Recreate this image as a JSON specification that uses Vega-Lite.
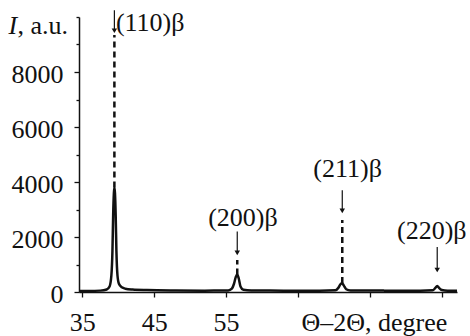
{
  "$schema": "https://vega.github.io/schema/vega-lite/v6.json",
  "width": 378,
  "height": 275,
  "autosize": "none",
  "padding": {"left": 79, "top": 17, "right": 13, "bottom": 44},
  "background": "white",
  "config": {
    "view": {"stroke": null},
    "axis": {
      "labelFont": "Liberation Serif",
      "labelFontSize": 26,
      "labelColor": "#111",
      "titleFont": "Liberation Serif",
      "titleFontSize": 26,
      "titleFontWeight": "normal",
      "titleColor": "#111",
      "domainColor": "#111",
      "domainWidth": 1.5,
      "tickColor": "#111",
      "tickWidth": 1.3,
      "grid": false
    }
  },
  "resolve": {"axis": {"y": "independent"}},
  "layer": [
    {
      "data": {"values": [
        {"t": 34.55, "I": 40}, {"t": 36, "I": 40}, {"t": 37.5, "I": 50}, {"t": 38.4, "I": 90},
        {"t": 38.8, "I": 200}, {"t": 39.05, "I": 600}, {"t": 39.2, "I": 1500}, {"t": 39.3, "I": 2800},
        {"t": 39.4, "I": 3600}, {"t": 39.47, "I": 3800}, {"t": 39.55, "I": 3600}, {"t": 39.65, "I": 2800},
        {"t": 39.75, "I": 1500}, {"t": 39.9, "I": 600}, {"t": 40.1, "I": 300}, {"t": 40.5, "I": 170},
        {"t": 41, "I": 120}, {"t": 42, "I": 90}, {"t": 44, "I": 70}, {"t": 48, "I": 55},
        {"t": 52, "I": 50}, {"t": 55.3, "I": 55}, {"t": 55.8, "I": 120}, {"t": 56.1, "I": 300},
        {"t": 56.35, "I": 550}, {"t": 56.55, "I": 640}, {"t": 56.75, "I": 500}, {"t": 57.0, "I": 200},
        {"t": 57.4, "I": 80}, {"t": 58.5, "I": 55}, {"t": 63, "I": 50}, {"t": 68, "I": 50},
        {"t": 70.2, "I": 60}, {"t": 70.6, "I": 150}, {"t": 70.9, "I": 280}, {"t": 71.1, "I": 330},
        {"t": 71.35, "I": 240}, {"t": 71.7, "I": 100}, {"t": 72.3, "I": 55}, {"t": 77, "I": 50},
        {"t": 82, "I": 50}, {"t": 83.7, "I": 60}, {"t": 84.1, "I": 150}, {"t": 84.35, "I": 220},
        {"t": 84.6, "I": 150}, {"t": 85.0, "I": 70}, {"t": 85.8, "I": 50}, {"t": 87.1, "I": 50}
      ]},
      "mark": {"type": "line", "color": "#111", "strokeWidth": 2.5, "interpolate": "monotone"},
      "encoding": {
        "x": {
          "field": "t", "type": "quantitative",
          "scale": {"domain": [34.55, 87.1], "nice": false, "zero": false},
          "axis": {
            "values": [35, 37.5, 40, 42.5, 45, 47.5, 50, 52.5, 55, 57.5, 60, 62.5, 65, 67.5, 70, 72.5, 75, 77.5, 80, 82.5, 85],
            "labelExpr": "datum.value == 35 || datum.value == 45 || datum.value == 55 ? datum.label : ''",
            "tickSize": 5,
            "labelPadding": 12,
            "labelFlush": false,
            "labelOverlap": false,
            "title": "Θ–2Θ, degree",
            "titleX": 222,
            "titleY": 38,
            "titleAlign": "left",
            "titleBaseline": "alphabetic",
            "titleAnchor": null
          }
        },
        "y": {
          "field": "I", "type": "quantitative",
          "scale": {"domain": [0, 10000], "nice": false},
          "axis": {
            "values": [0, 2000, 4000, 6000, 8000],
            "format": "d",
            "tickSize": 5,
            "labelPadding": 11,
            "labelOffset": 2,
            "title": "I",
            "titleFontStyle": "italic",
            "titleAngle": 0,
            "titleX": -71,
            "titleY": 16,
            "titleAlign": "left",
            "titleBaseline": "alphabetic",
            "titleAnchor": null
          }
        }
      }
    },
    {
      "data": {"values": [
        {"t": 39.47, "y1": 3800, "y2": 9350},
        {"t": 56.55, "y1": 640, "y2": 1160},
        {"t": 71.15, "y1": 330, "y2": 2620}
      ]},
      "mark": {"type": "rule", "color": "#111", "strokeWidth": 2.5, "strokeDash": [6, 4]},
      "encoding": {
        "x": {"field": "t", "type": "quantitative"},
        "y": {
          "field": "y1", "type": "quantitative",
          "axis": {
            "orient": "left",
            "values": [1000, 3000, 5000, 7000, 9000, 10000],
            "labels": false,
            "domain": false,
            "tickSize": 3,
            "title": ", a.u.",
            "titleAngle": 0,
            "titleX": -62,
            "titleY": 16,
            "titleAlign": "left",
            "titleBaseline": "alphabetic",
            "titleAnchor": null
          }
        },
        "y2": {"field": "y2"}
      }
    },
    {
      "data": {"values": [
        {"t": 39.47, "a1": 10250, "a2": 9500},
        {"t": 56.55, "a1": 2200, "a2": 1420},
        {"t": 71.15, "a1": 3700, "a2": 2950},
        {"t": 84.35, "a1": 1640, "a2": 800}
      ]},
      "layer": [
        {
          "mark": {"type": "rule", "color": "#111", "strokeWidth": 1.2},
          "encoding": {
            "x": {"field": "t", "type": "quantitative"},
            "y": {"field": "a1", "type": "quantitative", "axis": null},
            "y2": {"field": "a2"}
          }
        },
        {
          "mark": {"type": "point", "shape": "triangle-down", "filled": true, "color": "#111", "size": 30, "opacity": 1},
          "encoding": {
            "x": {"field": "t", "type": "quantitative"},
            "y": {"field": "a2", "type": "quantitative", "axis": null}
          }
        }
      ]
    },
    {
      "data": {"values": [
        {"t": 39.68, "yl": 9780, "label": "(110)β", "al": "left"},
        {"t": 57.34, "yl": 2690, "label": "(200)β", "al": "center"},
        {"t": 71.9, "yl": 4470, "label": "(211)β", "al": "center"},
        {"t": 83.6, "yl": 2220, "label": "(220)β", "al": "center"}
      ]},
      "layer": [
        {
          "transform": [{"filter": "datum.al == 'left'"}],
          "mark": {"type": "text", "font": "Liberation Serif", "fontSize": 26, "color": "#111", "align": "left", "baseline": "middle"},
          "encoding": {
            "x": {"field": "t", "type": "quantitative"},
            "y": {"field": "yl", "type": "quantitative", "axis": null},
            "text": {"field": "label"}
          }
        },
        {
          "transform": [{"filter": "datum.al == 'center'"}],
          "mark": {"type": "text", "font": "Liberation Serif", "fontSize": 26, "color": "#111", "align": "center", "baseline": "middle"},
          "encoding": {
            "x": {"field": "t", "type": "quantitative"},
            "y": {"field": "yl", "type": "quantitative", "axis": null},
            "text": {"field": "label"}
          }
        }
      ]
    }
  ]
}
